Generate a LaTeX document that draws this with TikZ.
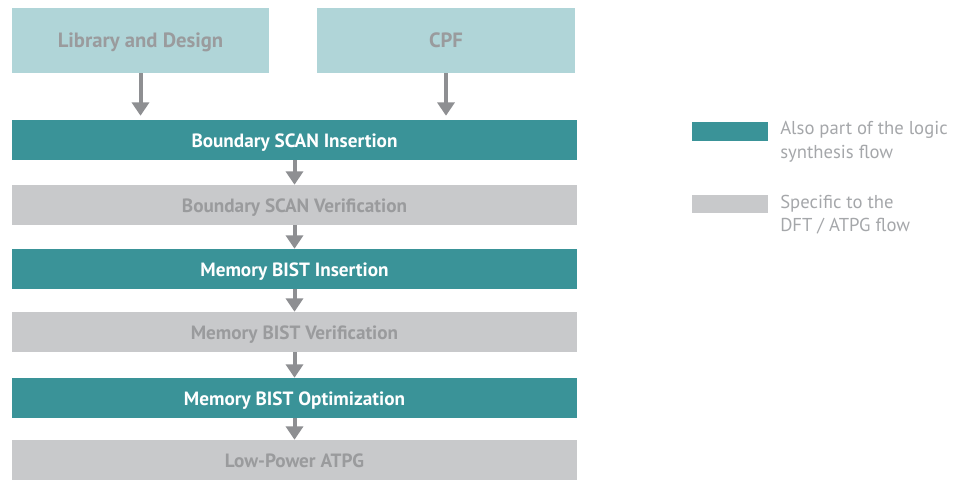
\documentclass[tikz,border=0pt]{standalone}
\usepackage{fontspec}
\setmainfont{PT Sans}
\usetikzlibrary{arrows.meta}
\definecolor{teal1}{HTML}{3A9398}
\definecolor{lteal}{HTML}{B0D5D8}
\definecolor{lgray}{HTML}{C8C9CB}
\definecolor{tgray}{HTML}{9A9B9D}
\definecolor{agray}{HTML}{8E8F92}
\definecolor{legtext}{HTML}{A5A7AA}
\begin{document}
\begin{tikzpicture}[x=0.75pt,y=-0.75pt,
 box/.style={rectangle, inner sep=0pt, minimum height=30pt, text height=2.6ex, text depth=0.5ex, font=\fontsize{14.4}{16}\selectfont\bfseries},
 wide/.style={box, minimum width=423.75pt},
 tealbox/.style={wide, fill=teal1, text=white},
 graybox/.style={wide, fill=lgray, text=tgray},
 topbox/.style={box, fill=lteal, text=tgray, minimum height=48.75pt, minimum width=193pt, font=\fontsize{15.5}{17}\selectfont\bfseries},
 arr/.style={agray, line width=3pt, -{Triangle[width=12.75pt,length=10pt]}},
 legbox/.style={rectangle, inner sep=0pt, anchor=north west, minimum width=57pt, minimum height=14pt},
 leg/.style={anchor=north west, inner sep=0pt, align=left, text=legtext, font=\fontsize{14}{17.8}\selectfont},
]
\useasboundingbox (0,0) rectangle (967,480);
\node[topbox] (lib) at (140.5,40.5) {Library and Design};
\node[topbox] (cpf) at (446,40.5) {CPF};
\node[tealbox] (b1) at (294.5,140) {Boundary SCAN Insertion};
\node[graybox] (b2) at (294.5,205) {Boundary SCAN Verification};
\node[tealbox] (b3) at (294.5,269) {Memory BIST Insertion};
\node[graybox] (b4) at (294.5,332) {Memory BIST Verification};
\node[tealbox] (b5) at (294.5,398) {Memory BIST Optimization};
\node[graybox] (b6) at (294.5,460) {Low-Power ATPG};
\draw[arr, shorten >=3pt] (lib.south) -- (lib.south |- b1.north);
\draw[arr, shorten >=3pt] (cpf.south) -- (cpf.south |- b1.north);
\draw[arr] (b1.south) -- (b2.north);
\draw[arr] (b2.south) -- (b3.north);
\draw[arr] (b3.south) -- (b4.north);
\draw[arr] (b4.south) -- (b5.north);
\draw[arr] (b5.south) -- (b6.north);
\node[legbox, fill=teal1] (lt) at (692,122) {};
\node[leg] (ltxt) at (780,121) {Also part of the logic\\synthesis flow};
\node[legbox, fill=lgray, minimum height=13.5pt] (lg) at (692,195) {};
\node[leg] (lgtxt) at (780,194.5) {Specific to the\\DFT / ATPG flow};
\end{tikzpicture}
\end{document}
